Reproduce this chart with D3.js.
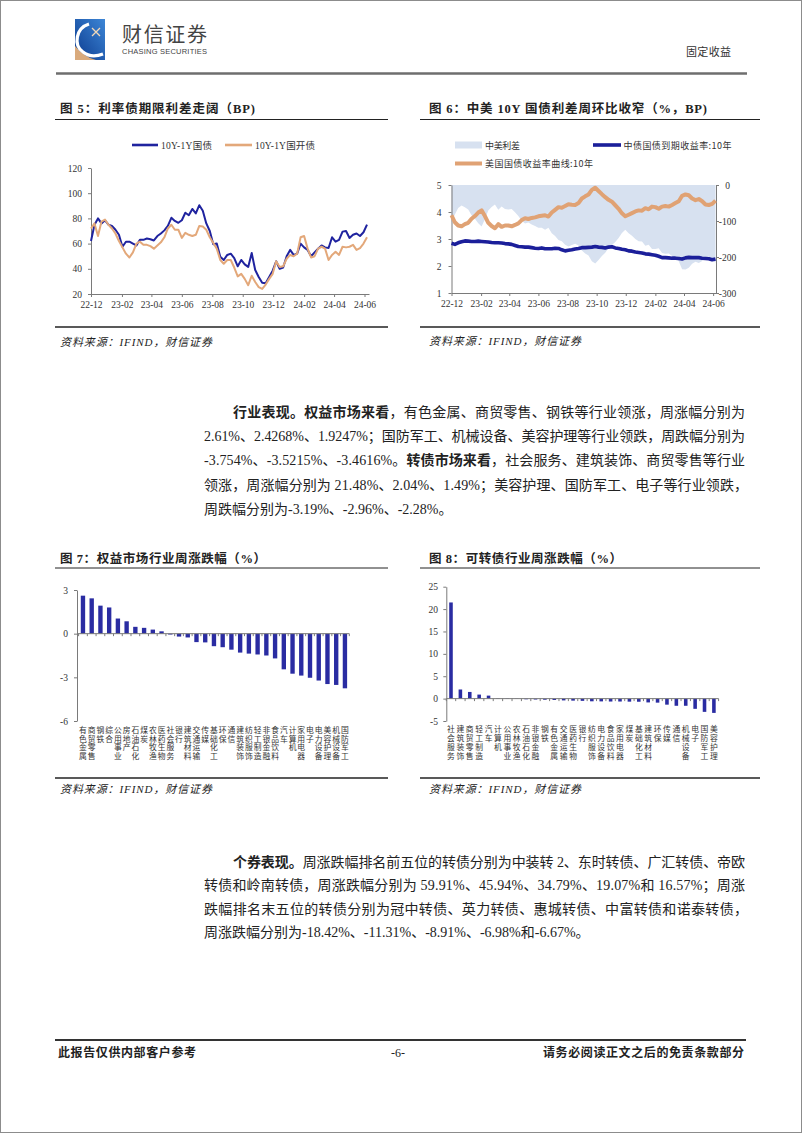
<!DOCTYPE html>
<html><head><meta charset="utf-8">
<script src="https://cdn.jsdelivr.net/npm/d3@7"></script>
<style>
html,body{margin:0;padding:0;background:#fff;}
svg{display:block;}
</style></head>
<body>
<svg id="page" width="802" height="1133"></svg>
<script>
// ---------------- DATA ----------------
// Fig 5: weekly points from 2022-12-01
const fig5Start = "2022-12-01";
const cgbSpread = [62,75,80,76,78.5,75,74,71,67,57.5,
  61.5,61.5,60,58.5,63,63,64,63.5,62.5,66,
  68,70.5,74,80.5,78,76.5,78.5,84.5,82.5,87.5,
  84,90.5,86,76,70,59.5,60,49.5,47,51,
  52,48.5,42,47,43.5,41.5,52.5,39,33.5,29,
  28.5,33.5,38.5,46,40,41,50,55,51,52,
  60,57,55,50,53,56,58.5,57,56.5,65,
  61.5,63,69.5,70,64.5,67,68,66,69,75];
const cdbSpread = [72,76,66,77.5,79,75,72,68,62,57,
  52,49,53,60,61.5,59,59,58,56,58.5,
  61,65,72,75,71,71,64.5,68.5,67,66,
  67,74,73.5,71,65,60.5,56,47,44,47,
  47,41,34,36,32,27,34.5,29.5,25.5,24,
  27.5,32,36,46,41.5,42,48,51,50,52,
  65,66,56,49,50,56,57.5,56,47,51,
  53.5,51,57.5,57,57.5,59,55,56.5,60,65];
const fig5Names = ["10Y-1Y国债","10Y-1Y国开债"];
const monthTicks = ["22-12","23-02","23-04","23-06","23-08","23-10","23-12","24-02","24-04","24-06"];
const fig5YTicks = [20,40,60,80,100,120];

// Fig 6: weekly points from 2022-12-01
const fig6Start = "2022-12-01";
const cn10y = [2.84,2.80,2.86,2.90,2.93,2.92,2.91,2.91,2.92,2.91,
  2.90,2.89,2.87,2.86,2.86,2.85,2.83,2.82,2.80,2.76,
  2.72,2.71,2.70,2.70,2.68,2.66,2.65,2.67,2.64,2.64,
  2.64,2.66,2.65,2.60,2.56,2.58,2.60,2.63,2.65,2.68,
  2.68,2.69,2.70,2.72,2.70,2.69,2.67,2.70,2.71,2.67,
  2.65,2.62,2.60,2.56,2.55,2.52,2.50,2.48,2.45,2.44,
  2.42,2.40,2.36,2.31,2.31,2.30,2.29,2.29,2.28,2.26,
  2.30,2.32,2.31,2.31,2.31,2.29,2.28,2.27,2.23,2.26];
const us10y = [3.88,3.62,3.50,3.47,3.55,3.60,3.75,3.85,3.98,4.06,
  3.85,3.60,3.48,3.40,3.55,3.45,3.50,3.50,3.47,3.52,
  3.58,3.70,3.77,3.74,3.78,3.80,3.84,3.86,3.88,3.83,
  3.98,4.08,4.18,4.16,4.22,4.29,4.27,4.26,4.33,4.50,
  4.58,4.65,4.82,4.90,4.78,4.66,4.55,4.45,4.38,4.25,
  4.12,3.95,3.84,3.90,3.96,4.02,4.06,4.05,4.14,4.10,
  4.20,4.18,4.12,4.20,4.22,4.20,4.26,4.33,4.40,4.60,
  4.65,4.62,4.50,4.44,4.48,4.40,4.28,4.26,4.30,4.42];
const cnusSpreadBP = [-104,-82,-64,-57,-62,-68,-84,-94,-106,-115,
  -95,-71,-61,-54,-69,-60,-67,-68,-67,-76,
  -86,-99,-107,-104,-110,-114,-119,-119,-124,-119,
  -134,-142,-153,-156,-166,-171,-167,-163,-168,-182,
  -190,-196,-212,-218,-208,-197,-188,-175,-167,-158,
  -147,-133,-124,-134,-141,-150,-156,-157,-169,-166,
  -178,-178,-176,-189,-191,-190,-197,-204,-212,-234,
  -235,-230,-219,-213,-217,-211,-200,-199,-207,-216];
const fig6Names = ["中美利差","中债国债到期收益率:10年","美国国债收益率曲线:10年"];
const fig6LeftTicks = [1,2,3,4,5];
const fig6RightTicks = [-300,-200,-100,0];

// Fig 7: equity industries weekly change (%)
const equityCats = ["有色金属","商贸零售","钢铁","综合","公用事业","房地产","石油石化","煤炭","农林牧渔","医药生物",
  "社会服务","银行","建筑材料","交通运输","传媒","基础化工","环保","通信","建筑装饰","纺织服饰",
  "轻工制造","非银金融","食品饮料","汽车","计算机","家用电器","电子","电力设备","美容护理","机械设备","国防军工"];
const equityVals = [2.61,2.4268,1.9247,1.80,1.04,0.85,0.47,0.40,0.28,0.16,
  -0.06,-0.20,-0.26,-0.58,-0.60,-0.86,-0.93,-1.10,-1.30,-1.37,
  -1.43,-1.50,-1.70,-2.45,-2.75,-2.88,-3.03,-3.22,-3.4616,-3.5215,-3.754];
const fig7YTicks = [-6,-3,0,3];

// Fig 8: convertible bond industries weekly change (%)
const cbCats = ["社会服务","建筑装饰","商贸零售","轻工制造","汽车","计算机","公用事业","农林牧渔","石油石化","非银金融",
  "钢铁","有色金属","交通运输","医药生物","银行","纺织服饰","电力设备","食品饮料","家用电器","煤炭",
  "基础化工","建筑材料","环保","传媒","通信","机械设备","电子","国防军工","美容护理"];
const cbVals = [21.48,2.04,1.49,0.90,0.67,0.10,0.08,0.05,-0.15,-0.20,
  -0.25,-0.30,-0.40,-0.45,-0.50,-0.60,-0.62,-0.65,-0.65,-0.68,
  -0.70,-0.85,-0.90,-1.35,-1.60,-1.60,-2.28,-2.96,-3.19];
const fig8YTicks = [-5,0,5,10,15,20,25];

// ---------------- STYLE ----------------
const SERIF = "'Liberation Serif','Noto Sans CJK SC',serif";
const CJK = "'Noto Sans CJK SC','Liberation Serif',sans-serif";
const BLUE5 = "#1f239f", ORANGE5 = "#e3a87a";
const BLUE6 = "#1b1f9a", ORANGE6 = "#e0a274", AREA6 = "#d7e1f0";
const BAR = "#2a2ca2";
const AXIS = "#7a7a7a";
const TXT = "#222";
const plainFmt = d => String(d);

const svg = d3.select("#page");
svg.append("rect").attr("x",0.5).attr("y",0.5).attr("width",801).attr("height",1132)
  .attr("fill","#fff").attr("stroke","#8c8c8c");

function fitText(sel, x0, x1) {
  const node = sel.node();
  sel.attr("x", x0).attr("text-anchor","start").attr("letter-spacing", 0);
  const w = node.getComputedTextLength();
  const n = Array.from(node.textContent).length;
  if (n > 1) sel.attr("letter-spacing", ((x1 - x0 - w) / (n - 1)).toFixed(3));
  return sel;
}
function addText(parent, txt, opts) {
  const t = parent.append("text").text(txt)
    .attr("font-family", opts.family || CJK)
    .attr("font-size", opts.size || 12)
    .attr("font-weight", opts.weight || 400)
    .attr("fill", opts.fill || TXT)
    .attr("y", opts.y);
  if (opts.italic) t.attr("font-style","italic");
  if (opts.x1 !== undefined) fitText(t, opts.x0, opts.x1);
  else t.attr("x", opts.x0).attr("text-anchor", opts.anchor || "start");
  return t;
}

// ---------------- HEADER ----------------
const defs = svg.append("defs");
const lg = defs.append("linearGradient").attr("id","logoGrad").attr("x1","1").attr("y1","0").attr("x2","0").attr("y2","1");
lg.append("stop").attr("offset","0").attr("stop-color","#3d86d6");
lg.append("stop").attr("offset","1").attr("stop-color","#0b3a8e");
const logo = svg.append("g").attr("transform","translate(75,19)");
logo.append("rect").attr("width",30).attr("height",41).attr("fill","url(#logoGrad)");
logo.append("path").attr("d","M0,27 Q9,38 21,41 L0,41 Z").attr("fill","#d9aa7c");
logo.append("path").attr("d","M14,5 C1,9 -2,26 8,33 C13,37 20,38 28,35")
  .attr("fill","none").attr("stroke","#fff").attr("stroke-width",3.2);
logo.append("path").attr("d","M17,9 L25,17 M25,9 L17,17").attr("stroke","#f3d9b8").attr("stroke-width",1.3);
addText(svg, "财信证券", {x0:122, x1:207, y:42, size:20, fill:"#444"});
addText(svg, "CHASING SECURITIES", {x0:122, x1:207, y:54, size:7.5, family:"'Liberation Sans',sans-serif", fill:"#444"});
addText(svg, "固定收益", {x0:686, x1:731, y:56, size:11, fill:"#333"});
svg.append("line").attr("x1",56).attr("x2",747).attr("y1",73.5).attr("y2",73.5)
  .attr("stroke","#6e6e6e").attr("stroke-width",2.6);

// ---------------- COMMON ----------------
function frame(title, tx0, tx1, ty, rx0, rx1, ruleTop, ruleBot, srcY) {
  addText(svg, title, {x0:tx0, x1:tx1, y:ty, size:12.5, weight:700, family:SERIF});
  svg.append("line").attr("x1",rx0).attr("x2",rx1).attr("y1",ruleTop).attr("y2",ruleTop).attr("stroke","#222").attr("stroke-width",1);
  svg.append("line").attr("x1",rx0).attr("x2",rx1).attr("y1",ruleBot).attr("y2",ruleBot).attr("stroke","#222").attr("stroke-width",1.4);
  addText(svg, "资料来源：IFIND，财信证券", {x0:tx0, x1:tx0 + 152, y:srcY, size:11, italic:true, family:SERIF});
}
function styleAxis(g, size) {
  g.select(".domain").attr("stroke", AXIS);
  g.selectAll(".tick line").attr("stroke", AXIS);
  g.selectAll(".tick text").attr("font-family", SERIF).attr("font-size", size || 9.5).attr("fill", "#333");
}
const parseMonth = d3.timeParse("%y-%m");
const fmtMonth = d3.timeFormat("%y-%m");
const parseDay = d3.timeParse("%Y-%m-%d");

// ---------------- FIG 5 ----------------
frame("图 5：利率债期限利差走阔（BP)", 60, 255, 112.5, 55, 388, 119.5, 327, 346);
{
  const d0 = parseDay(fig5Start);
  const dates = cgbSpread.map((v,i) => d3.timeDay.offset(d0, 7*i));
  const x = d3.scaleTime().domain([d0, new Date(2024,5,10)]).range([91, 369]);
  const y = d3.scaleLinear().domain([20,120]).range([294,168]);
  const gx = svg.append("g").attr("transform","translate(0,294)")
    .call(d3.axisBottom(x).tickValues(monthTicks.map(parseMonth)).tickFormat(fmtMonth).tickSize(3).tickSizeOuter(0).tickPadding(4));
  styleAxis(gx);
  const gy = svg.append("g").attr("transform","translate(91,0)")
    .call(d3.axisLeft(y).tickValues(fig5YTicks).tickFormat(plainFmt).tickSize(3).tickSizeOuter(0).tickPadding(6));
  styleAxis(gy);
  const line = d3.line().x((d,i) => x(dates[i])).y(d => y(d));
  svg.append("path").datum(cgbSpread).attr("d", line).attr("fill","none").attr("stroke",BLUE5).attr("stroke-width",2).attr("stroke-linejoin","round");
  svg.append("path").datum(cdbSpread).attr("d", line).attr("fill","none").attr("stroke",ORANGE5).attr("stroke-width",2).attr("stroke-linejoin","round");
  // legend
  const lgd = [[fig5Names[0], BLUE5, 132, 158, 161, 212], [fig5Names[1], ORANGE5, 225, 252, 255, 315]];
  lgd.forEach(([name, c, l0, l1, t0, t1]) => {
    svg.append("line").attr("x1",l0).attr("x2",l1).attr("y1",145).attr("y2",145).attr("stroke",c).attr("stroke-width",2.6);
    addText(svg, name, {x0:t0, x1:t1, y:148.5, size:9.5, family:SERIF, fill:"#333"});
  });
}

// ---------------- FIG 6 ----------------
frame("图 6：中美 10Y 国债利差周环比收窄（%，BP)", 429, 707, 112.5, 420, 760, 119.5, 327, 345);
{
  const d0 = parseDay(fig6Start);
  const dates = cn10y.map((v,i) => d3.timeDay.offset(d0, 7*i));
  const x = d3.scaleTime().domain([d0, new Date(2024,5,7)]).range([451.5, 716]);
  const yL = d3.scaleLinear().domain([1,5]).range([293,185]);
  const yR = d3.scaleLinear().domain([-300,0]).range([293,185]);
  const area = d3.area().x((d,i) => x(dates[i])).y0(yR(0)).y1(d => yR(d));
  svg.append("path").datum(cnusSpreadBP).attr("d", area).attr("fill", AREA6);
  const gx = svg.append("g").attr("transform","translate(0,293)")
    .call(d3.axisBottom(x).tickValues(monthTicks.map(parseMonth)).tickFormat(fmtMonth).tickSize(3).tickSizeOuter(0).tickPadding(4));
  styleAxis(gx);
  const gyl = svg.append("g").attr("transform","translate(451.5,0)")
    .call(d3.axisLeft(yL).tickValues(fig6LeftTicks).tickFormat(plainFmt).tickSize(3).tickSizeOuter(0).tickPadding(7));
  styleAxis(gyl);
  const gyr = svg.append("g").attr("transform","translate(716,0)")
    .call(d3.axisRight(yR).tickValues(fig6RightTicks).tickFormat(plainFmt).tickSize(3).tickSizeOuter(0).tickPadding(2));
  styleAxis(gyr);
  gyr.selectAll(".tick text").attr("text-anchor","middle").attr("x", 11.5);
  const line = d3.line().x((d,i) => x(dates[i])).y(d => yL(d));
  svg.append("path").datum(cn10y).attr("d", line).attr("fill","none").attr("stroke",BLUE6).attr("stroke-width",3.6).attr("stroke-linejoin","round");
  svg.append("path").datum(us10y).attr("d", line).attr("fill","none").attr("stroke",ORANGE6).attr("stroke-width",4).attr("stroke-linejoin","round");
  // legend
  svg.append("rect").attr("x",455).attr("y",141.5).attr("width",27).attr("height",7).attr("fill",AREA6);
  addText(svg, fig6Names[0], {x0:485, x1:520, y:148.5, size:9, fill:"#333"});
  svg.append("line").attr("x1",593).attr("x2",621).attr("y1",145).attr("y2",145).attr("stroke",BLUE6).attr("stroke-width",3.6);
  addText(svg, fig6Names[1], {x0:623.5, x1:731.5, y:148.5, size:9, fill:"#333"});
  svg.append("line").attr("x1",455).attr("x2",482).attr("y1",163.5).attr("y2",163.5).attr("stroke",ORANGE6).attr("stroke-width",4);
  addText(svg, fig6Names[2], {x0:485, x1:593, y:167, size:9, fill:"#333"});
}

// ---------------- BAR CHARTS ----------------
function barChart(cats, vals, yDomain, yTicks, xr, yr, axisX, barPad, labelTop, labelRight) {
  const x = d3.scaleBand().domain(cats).range(xr).paddingInner(barPad).paddingOuter(barPad/2);
  const y = d3.scaleLinear().domain(yDomain).range(yr);
  const gy = svg.append("g").attr("transform",`translate(${axisX},0)`)
    .call(d3.axisLeft(y).tickValues(yTicks).tickFormat(plainFmt).tickSize(3).tickSizeOuter(0).tickPadding(axisX - labelRight - 3));
  styleAxis(gy);
  svg.append("g").selectAll("rect").data(cats).join("rect")
    .attr("x", c => x(c)).attr("width", x.bandwidth())
    .attr("y", (c,i) => y(Math.max(0, vals[i])))
    .attr("height", (c,i) => Math.abs(y(vals[i]) - y(0)))
    .attr("fill", BAR);
  // zero axis
  svg.append("line").attr("x1",axisX).attr("x2",xr[1]).attr("y1",y(0)).attr("y2",y(0)).attr("stroke",AXIS);
  svg.append("g").selectAll("line").data(d3.range(cats.length + 1)).join("line")
    .attr("x1", i => xr[0] + i * x.step()).attr("x2", i => xr[0] + i * x.step())
    .attr("y1", y(0)).attr("y2", y(0) + 2.5).attr("stroke", AXIS);
  // vertical category labels (one text per category, stacked characters)
  const fs = 7.8;
  svg.append("g").selectAll("text").data(cats).join("text")
    .text(c => c)
    .attr("x", c => x(c) + x.bandwidth()/2)
    .attr("y", labelTop - fs/2)
    .style("writing-mode", "vertical-rl")
    .style("text-orientation", "upright")
    .attr("letter-spacing", 8.7 - fs)
    .attr("font-family", CJK).attr("font-size", fs).attr("fill", "#333");
}

frame("图 7：权益市场行业周涨跌幅（%）", 60, 266, 562.5, 55, 388, 568, 778, 792.5);
barChart(equityCats, equityVals, [-6,3], fig7YTicks, [78.6, 349.3], [721, 590], 77, 0.5, 730, 68);

frame("图 8：可转债行业周涨跌幅（%）", 429, 622, 562.5, 420, 760, 568, 778, 792.5);
barChart(cbCats, cbVals, [-5,25], fig8YTicks, [446.3, 718.6], [721, 586.7], 446.3, 0.62, 729.5, 438);

// ---------------- PARAGRAPHS ----------------
function paraLine(y, x0, x1, segs) {
  const t = svg.append("text").attr("y", y).attr("font-family", SERIF).attr("font-size", 14).attr("fill", TXT);
  segs.forEach(([s, b]) => t.append("tspan").text(s).attr("font-weight", b ? 700 : 400)
    .attr("font-family", b ? CJK : SERIF));
  if (x1 !== null) fitText(t, x0, x1);
  else t.attr("x", x0);
}
paraLine(416.5, 233, 745, [["行业表现。权益市场来看",1],["，有色金属、商贸零售、钢铁等行业领涨，周涨幅分别为",0]]);
paraLine(441, 204, 745, [["2.61%、2.4268%、1.9247%；国防军工、机械设备、美容护理等行业领跌，周跌幅分别为",0]]);
paraLine(465, 204, 745, [["-3.754%、-3.5215%、-3.4616%。",0],["转债市场来看",1],["，社会服务、建筑装饰、商贸零售等行业",0]]);
paraLine(489.5, 204, 748, [["领涨，周涨幅分别为 21.48%、2.04%、1.49%；美容护理、国防军工、电子等行业领跌，",0]]);
paraLine(513.5, 204, null, [["周跌幅分别为-3.19%、-2.96%、-2.28%。",0]]);

paraLine(866.5, 233, 745, [["个券表现。",1],["周涨跌幅排名前五位的转债分别为中装转 2、东时转债、广汇转债、帝欧",0]]);
paraLine(890, 204, 745, [["转债和岭南转债，周涨跌幅分别为 59.91%、45.94%、34.79%、19.07%和 16.57%；周涨",0]]);
paraLine(913.5, 204, 748, [["跌幅排名末五位的转债分别为冠中转债、英力转债、惠城转债、中富转债和诺泰转债，",0]]);
paraLine(937, 204, null, [["周涨跌幅分别为-18.42%、-11.31%、-8.91%、-6.98%和-6.67%。",0]]);

// ---------------- FOOTER ----------------
svg.append("line").attr("x1",55).attr("x2",746).attr("y1",1040).attr("y2",1040).attr("stroke","#333").attr("stroke-width",2);
addText(svg, "此报告仅供内部客户参考", {x0:58, x1:196, y:1057, size:12, weight:700});
addText(svg, "-6-", {x0:398, y:1057, size:12, family:SERIF, anchor:"middle"});
addText(svg, "请务必阅读正文之后的免责条款部分", {x0:543, x1:744, y:1057, size:12, weight:700});
</script>
</body></html>
